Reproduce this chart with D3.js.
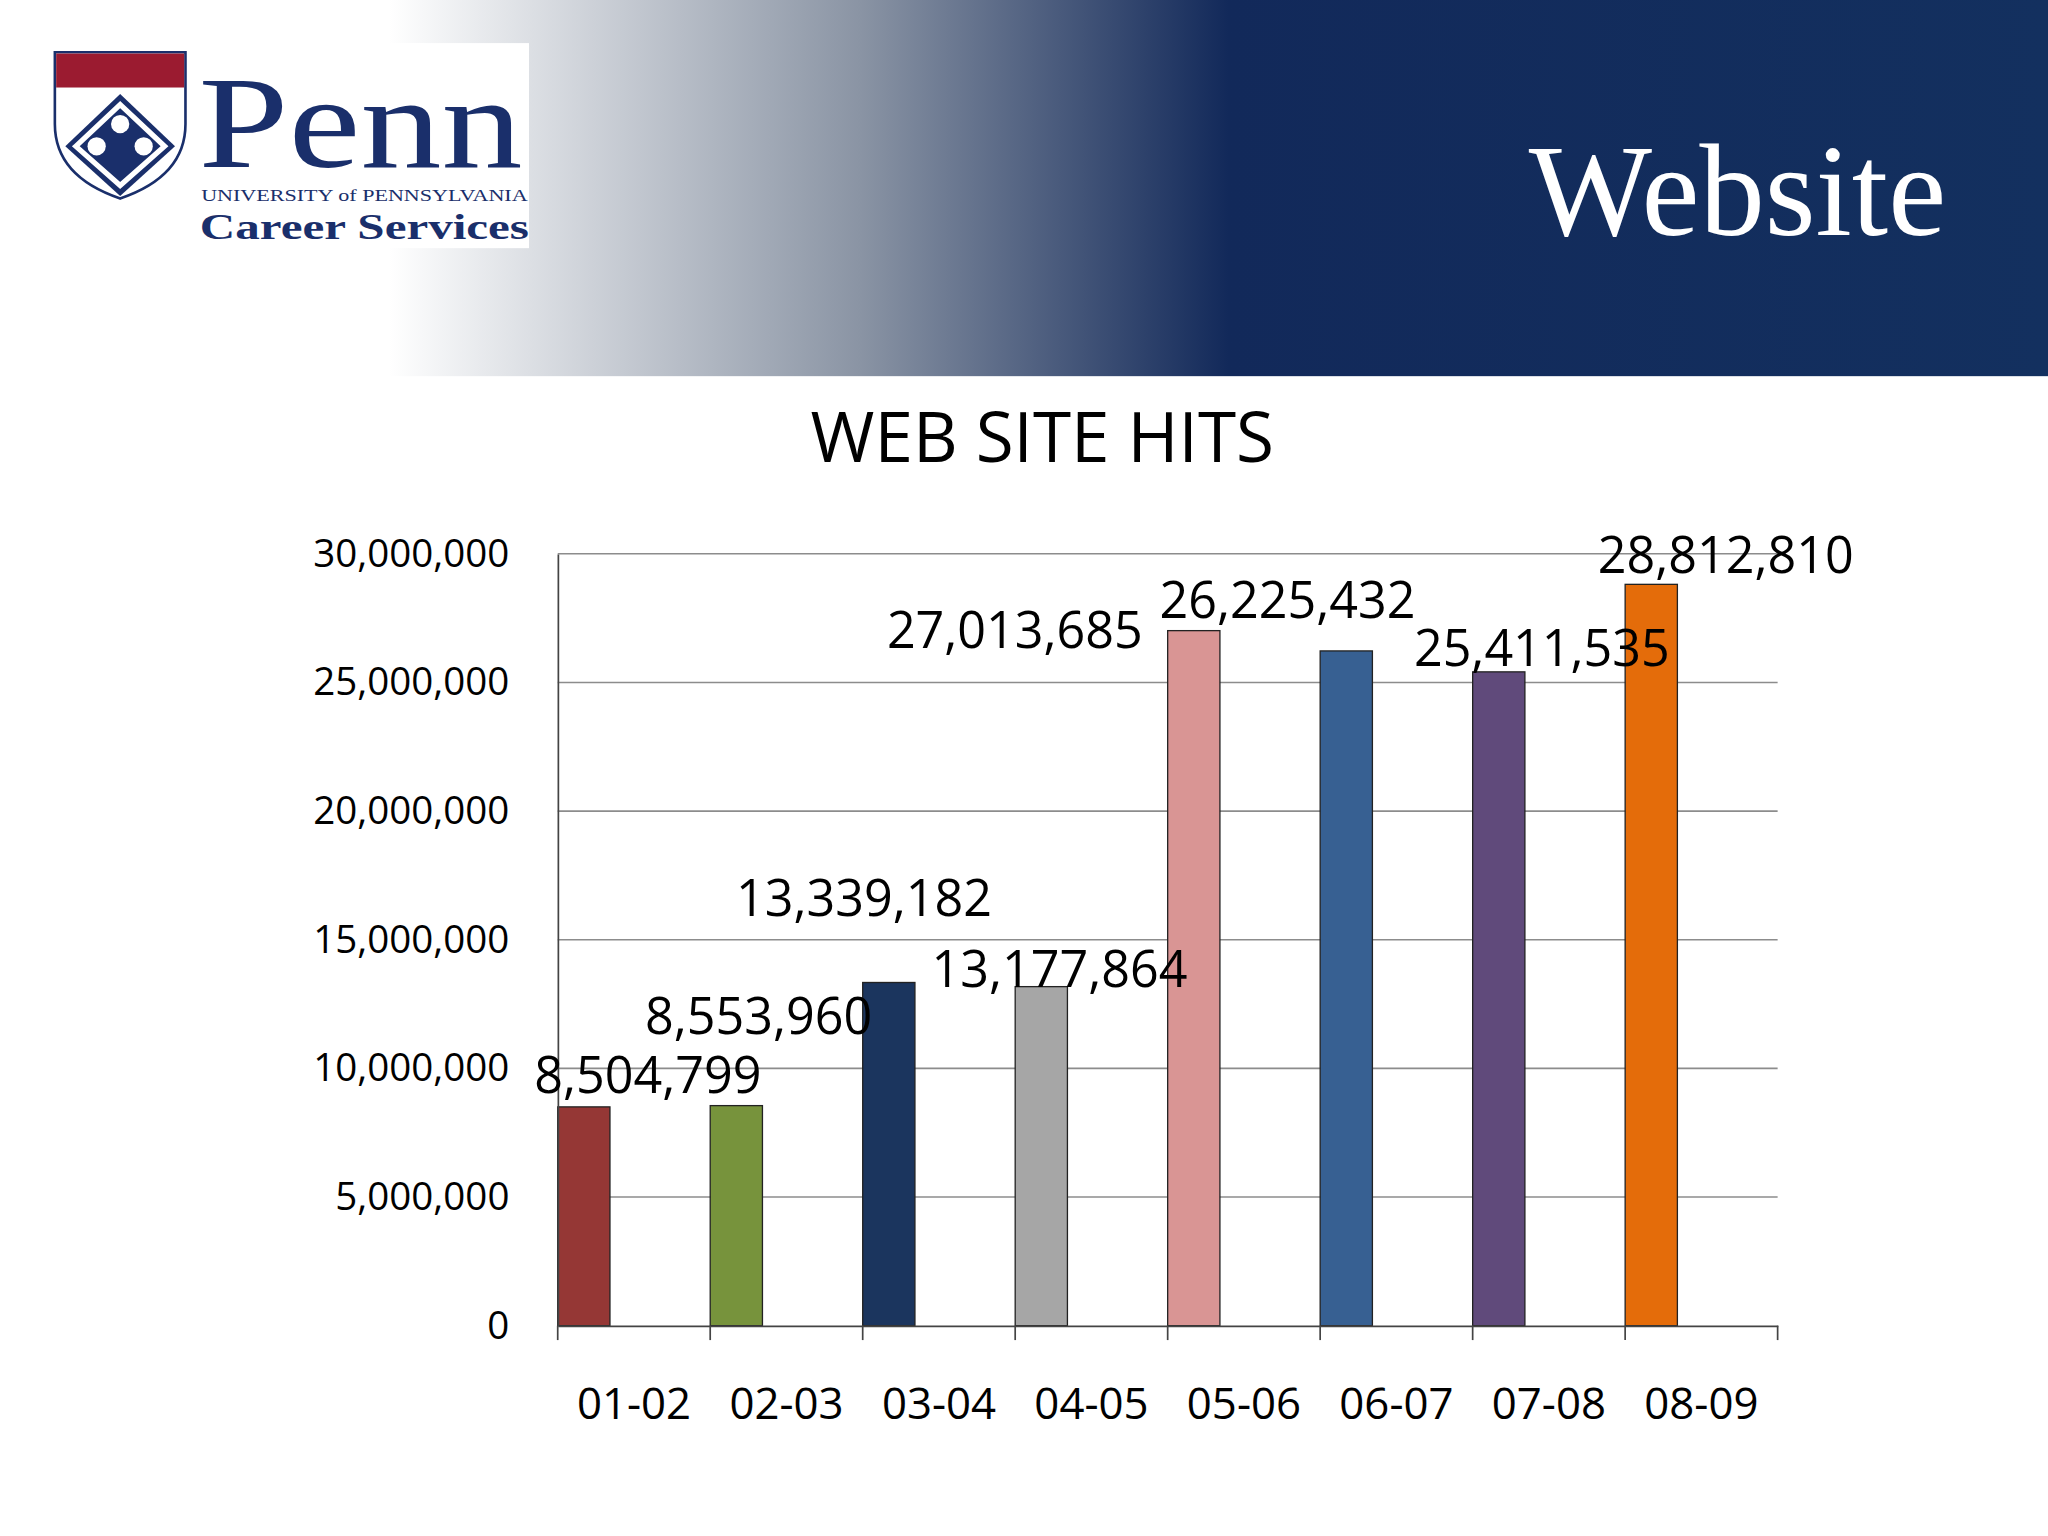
<!DOCTYPE html>
<html><head><meta charset="utf-8">
<script src="https://cdn.jsdelivr.net/npm/d3@7"></script>
<style>html,body{margin:0;padding:0;background:#fff;}</style>
</head><body>
<svg id="c" width="2048" height="1536" viewBox="0 0 1568 1176"></svg>
<script>
const categories = ["01-02","02-03","03-04","04-05","05-06","06-07","07-08","08-09"];
const values = [8504799, 8553960, 13339182, 13177864, 27013685, 26225432, 25411535, 28812810];
const colors = ["#953735","#77933c","#1b355e","#a6a6a6","#d99594","#376092","#604a7b","#e46c0a"];
const yTicks = [0,5000000,10000000,15000000,20000000,25000000,30000000];
// label offsets (px) relative to bar centre / bar top, as placed in the original
const labelDx = [49,17,-19,14,-137,-45,33,57];
const labelDy = [-24,-68,-64,-13,0,-39,-18,-22];

const svg = d3.select("#c");
const defs = svg.append("defs");
const g = defs.append("linearGradient").attr("id","hdr").attr("x1","0").attr("x2","1");
g.append("stop").attr("offset","0").attr("stop-color","#ffffff");
g.append("stop").attr("offset","0.19").attr("stop-color","#ffffff");
g.append("stop").attr("offset","0.42").attr("stop-color","#8a94a4");
g.append("stop").attr("offset","0.6").attr("stop-color","#12295a");
g.append("stop").attr("offset","1").attr("stop-color","#13305f");
svg.append("rect").attr("x",0).attr("y",0).attr("width",1568).attr("height",288).attr("fill","url(#hdr)");

// logo
svg.append("rect").attr("x",33).attr("y",33).attr("width",372).attr("height",157).attr("fill","#fff");
svg.append("path").attr("d","M42,40 H142 V95 Q142,135 92,152 Q42,135 42,95 Z").attr("fill","#fff").attr("stroke","#1a2f6b").attr("stroke-width",2);
svg.append("rect").attr("x",43).attr("y",41).attr("width",98).attr("height",26).attr("fill","#9b1b30");
svg.append("path").attr("d","M50,112 L92,72 L134,112 L92,150 Z").attr("fill","#1a2f6b");
svg.append("path").attr("d","M58,112 L92,80 L126,112 L92,142 Z").attr("fill","none").attr("stroke","#fff").attr("stroke-width",4);
[[92,95],[74,112],[110,112]].forEach(p=>svg.append("circle").attr("cx",p[0]).attr("cy",p[1]).attr("r",7).attr("fill","#fff"));
svg.append("text").attr("x",152).attr("y",128).attr("font-family","Liberation Serif, serif").attr("font-size",100).attr("textLength",248).attr("lengthAdjust","spacingAndGlyphs").attr("fill","#1a2f6b").text("Penn");
svg.append("text").attr("x",154).attr("y",154).attr("font-family","Liberation Serif, serif").attr("font-size",13).attr("textLength",250).attr("lengthAdjust","spacingAndGlyphs").attr("fill","#1a2f6b").text("UNIVERSITY of PENNSYLVANIA");
svg.append("text").attr("x",153).attr("y",183).attr("font-family","Liberation Serif, serif").attr("font-size",28).attr("font-weight","bold").attr("textLength",252).attr("lengthAdjust","spacingAndGlyphs").attr("fill","#1a2f6b").text("Career Services");
svg.append("text").attr("x",1490).attr("y",180).attr("text-anchor","end").attr("font-family","Liberation Serif, serif").attr("font-size",100).attr("fill","#fff").text("Website");

svg.append("text").attr("x",798).attr("y",354).attr("text-anchor","middle").attr("font-family","Open Sans, sans-serif").attr("font-size",53).attr("fill","#000").text("WEB SITE HITS");

const L=427,R=1361,T=424,B=1015;
const x = d3.scaleBand().domain(categories).range([L,R]).paddingInner(0).paddingOuter(0);
const y = d3.scaleLinear().domain([0,30000000]).range([B,T]);
const fmt = d3.format(",");

svg.append("g").selectAll("line").data(yTicks.slice(1)).join("line")
 .attr("x1",L).attr("x2",R).attr("y1",d=>y(d)).attr("y2",d=>y(d)).attr("stroke","#8c8c8c").attr("stroke-width",1.2);

const bw = 40;
svg.append("g").selectAll("rect").data(values).join("rect")
 .attr("x",(d,i)=>x(categories[i])).attr("width",bw).attr("y",d=>y(d)).attr("height",d=>B-y(d))
 .attr("fill",(d,i)=>colors[i]).attr("stroke","#222").attr("stroke-width",1);

const ya = svg.append("g").attr("transform",`translate(${L},0)`).call(d3.axisLeft(y).tickValues(yTicks).tickFormat(d=>fmt(d)).tickSize(0).tickPadding(37));
ya.select(".domain").attr("stroke","#444").attr("stroke-width",1.3);
ya.selectAll("text").attr("font-family","Open Sans, sans-serif").attr("font-size",29.5).attr("fill","#000");

const xa = svg.append("g").attr("transform",`translate(0,${B})`).call(d3.axisBottom(x).tickSize(0).tickPadding(48));
xa.select(".domain").attr("stroke","#444").attr("stroke-width",1.3);
xa.selectAll("text").attr("font-family","Open Sans, sans-serif").attr("font-size",33.5).attr("fill","#000");
svg.append("g").selectAll("line").data(categories.concat(["end"])).join("line")
 .attr("x1",(d,i)=>L+i*x.bandwidth()).attr("x2",(d,i)=>L+i*x.bandwidth()).attr("y1",B).attr("y2",B+11).attr("stroke","#444").attr("stroke-width",1.3);

svg.append("g").selectAll("text").data(values).join("text")
 .attr("x",(d,i)=>x(categories[i])+bw/2+labelDx[i]).attr("y",(d,i)=>y(d)+labelDy[i]).attr("dy","0.35em")
 .attr("text-anchor","middle").attr("font-family","Open Sans, sans-serif").attr("font-size",38.5).attr("fill","#000")
 .text(d=>fmt(d));
</script>
</body></html>
